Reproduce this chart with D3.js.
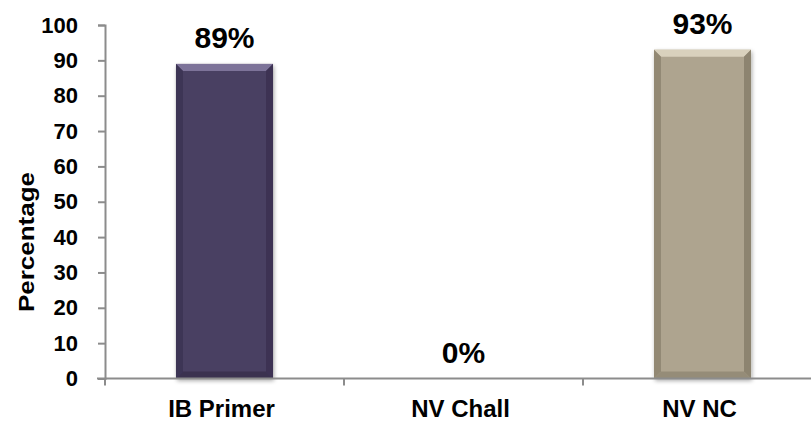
<!DOCTYPE html>
<html><head><meta charset="utf-8">
<script src="https://cdn.jsdelivr.net/npm/d3@7"></script>
<style>
html,body{margin:0;padding:0;background:#fff;}
svg{display:block;font-family:Arial,"Liberation Sans",sans-serif;}
</style></head>
<body>
<svg id="c" width="811" height="421"></svg>
<script>
const categories = ["IB Primer", "NV Chall", "NV NC"];
const values = [89, 0, 93];
const valueLabels = ["89%", "0%", "93%"];
const yTicks = [0, 10, 20, 30, 40, 50, 60, 70, 80, 90, 100];
const yTitle = "Percentage";

const palettes = [
  {main:"#4a3f62", top:"#7d7399", side:"#3c3253", bottom:"#3a3150"},
  null,
  {main:"#aea48f", top:"#d9d1bd", side:"#8d846f", bottom:"#958c78"}
];

const svg = d3.select("#c");
const x0 = 105, step = 239;
const x = d3.scaleBand().domain(categories)
  .range([x0, x0 + step * categories.length])
  .paddingInner(0.594).paddingOuter(0.297);
const y = d3.scaleLinear().domain([0, 100]).range([378.5, 25]);

const defs = svg.append("defs");
const f = defs.append("filter").attr("id","sh").attr("x","-20%").attr("y","-10%").attr("width","140%").attr("height","120%");
f.append("feGaussianBlur").attr("in","SourceAlpha").attr("stdDeviation",2);
f.append("feOffset").attr("dx",1).attr("dy",2).attr("result","ob");
f.append("feComponentTransfer").append("feFuncA").attr("type","linear").attr("slope",0.35);
const m = f.append("feMerge"); m.append("feMergeNode"); m.append("feMergeNode").attr("in","SourceGraphic");

// bars
const bw = x.bandwidth(), bv = 7;
categories.forEach((c, i) => {
  const v = values[i];
  if (v <= 0 || !palettes[i]) return;
  const p = palettes[i];
  const x1 = x(c), x2 = x1 + bw, yt = y(v), yb = y(0);
  const g = svg.append("g").attr("filter","url(#sh)");
  g.append("rect").attr("x",x1).attr("y",yt).attr("width",bw).attr("height",yb-yt).attr("fill",p.main);
  g.append("polygon").attr("points",[[x1,yt],[x2,yt],[x2-bv,yt+bv],[x1+bv,yt+bv]].join(" ")).attr("fill",p.top);
  g.append("polygon").attr("points",[[x1,yt],[x1+bv,yt+bv],[x1+bv,yb-bv],[x1,yb]].join(" ")).attr("fill",p.side).attr("opacity",0.85);
  g.append("polygon").attr("points",[[x2,yt],[x2-bv,yt+bv],[x2-bv,yb-bv],[x2,yb]].join(" ")).attr("fill",p.side);
  g.append("polygon").attr("points",[[x1,yb],[x1+bv,yb-bv],[x2-bv,yb-bv],[x2,yb]].join(" ")).attr("fill",p.bottom);
});

// y axis
const yAxis = d3.axisLeft(y).tickValues(yTicks).tickSize(7).tickPadding(20).tickSizeOuter(7);
const ya = svg.append("g").attr("transform",`translate(${x0},0)`).call(yAxis);
ya.select(".domain").attr("stroke","#8c8c8c").attr("stroke-width",2);
ya.selectAll(".tick line").attr("stroke","#8c8c8c").attr("stroke-width",2);
ya.selectAll(".tick text").attr("font-size",22).attr("font-weight","bold").attr("fill","#000")
  .attr("font-family","Arial,'Liberation Sans',sans-serif");

// x axis
const xa = svg.append("g").attr("transform",`translate(0,${y(0)})`);
xa.append("line").attr("x1",x0-8).attr("x2",x0+step*categories.length).attr("stroke","#8c8c8c").attr("stroke-width",2);
d3.range(categories.length + 1).forEach(k => {
  const bx = x0 + k * step;
  xa.append("line").attr("x1",bx).attr("x2",bx).attr("y1",0).attr("y2",7).attr("stroke","#8c8c8c").attr("stroke-width",2);
});
xa.selectAll("text.cat").data(categories).join("text").attr("class","cat")
  .attr("x", d => x(d) + bw/2 - 3).attr("y", 38.5)
  .attr("text-anchor","middle").attr("font-size",24).attr("font-weight","bold").attr("fill","#000")
  .text(d => d);

// value labels
svg.selectAll("text.val").data(categories).join("text").attr("class","val")
  .attr("x", d => x(d) + bw/2)
  .attr("y", (d,i) => y(values[i]) - 16)
  .attr("text-anchor","middle").attr("font-size",30).attr("font-weight","bold").attr("fill","#000")
  .text((d,i) => valueLabels[i]);

// y title
svg.append("text").attr("transform","translate(34,242) rotate(-90)")
  .attr("text-anchor","middle").attr("font-size",22).attr("font-weight","bold").attr("fill","#000")
  .attr("textLength",140).attr("lengthAdjust","spacingAndGlyphs")
  .text(yTitle);
</script>
</body></html>
